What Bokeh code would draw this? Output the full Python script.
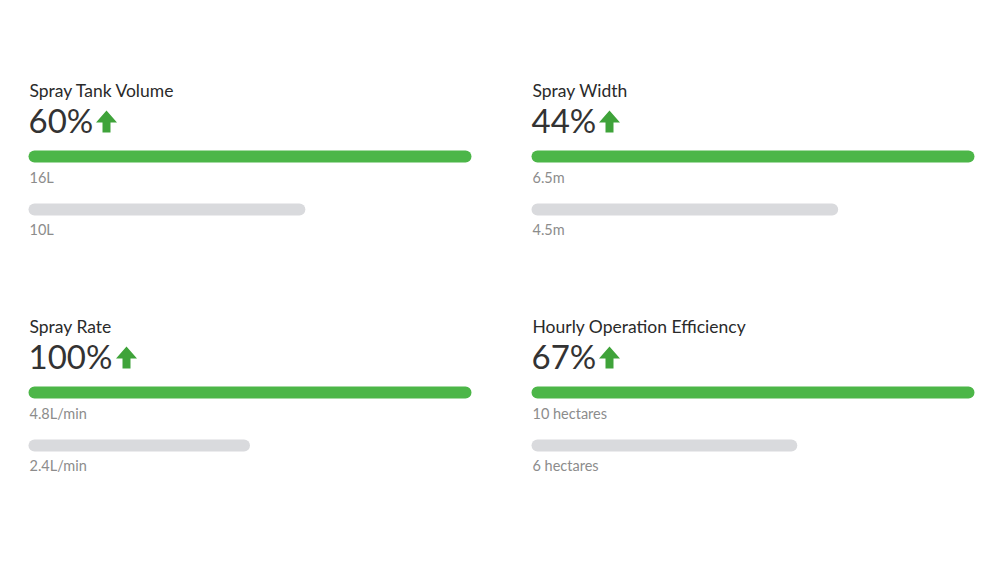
from bokeh.plotting import figure
from bokeh.models import Range1d
from bokeh.core.properties import value
from bokeh.embed import file_html
from bokeh.resources import INLINE

titles = ["Spray Tank Volume", "Spray Width", "Spray Rate", "Hourly Operation Efficiency"]
new_values = [16, 6.5, 4.8, 10]
old_values = [10, 4.5, 2.4, 6]
new_labels = ["16L", "6.5m", "4.8L/min", "10 hectares"]
old_labels = ["10L", "4.5m", "2.4L/min", "6 hectares"]
increase_pct = [60, 44, 100, 67]

GREEN = "#4cb648"
GREY = "#d9dadd"
FONT = value("Lato")
W, H = 984, 548
BAR_PX = 443.0
COL_LEFT = [28, 531, 28, 531]
ROW_TOP = [0, 0, 236, 236]

p = figure(width=W, height=H, output_backend="svg", toolbar_location=None,
           x_range=Range1d(0, W), y_range=Range1d(H, 0), min_border=0,
           min_border_left=0, min_border_right=0, min_border_top=0, min_border_bottom=0)
p.axis.visible = False
p.grid.visible = False
p.outline_line_color = None
p.background_fill_color = "white"
p.border_fill_color = "white"

for i in range(4):
    left = COL_LEFT[i]
    top = ROW_TOP[i]
    k = new_values[i] / BAR_PX
    rname = f"panel{i}"
    p.extra_x_ranges[rname] = Range1d(-left * k, (W - left) * k)

    # title
    p.text(x=[left + 1], y=[top + 90], text=[titles[i]], text_font=FONT,
           text_font_size="17.5px", text_color="#2a2a2a", text_baseline="middle")
    # big percentage
    pct = f"{increase_pct[i]}%"
    p.text(x=[left], y=[top + 119.5], text=[pct], text_font=FONT, text_font_size="33px",
           text_color="#333333", text_baseline="middle")
    # arrow
    cx = left + 78 + (len(pct) - 3) * 20
    ax = [cx, cx + 10.5, cx + 4, cx + 4, cx - 4, cx - 4, cx - 10.5]
    ay = [top + 110, top + 122, top + 122, top + 132, top + 132, top + 122, top + 122]
    p.patch(ax, ay, fill_color="#3fa33a", line_color=None)

    # bars
    p.hbar(y=[top + 156], height=12, left=[0], right=[new_values[i]], fill_color=GREEN,
           line_color=None, border_radius=6, x_range_name=rname)
    p.hbar(y=[top + 209], height=12, left=[0], right=[old_values[i]], fill_color=GREY,
           line_color=None, border_radius=6, x_range_name=rname)

    # labels
    p.text(x=[left + 1], y=[top + 176.5], text=[new_labels[i]], text_font=FONT,
           text_font_size="14.5px", text_color="#8c8c8c", text_baseline="middle")
    p.text(x=[left + 1], y=[top + 229], text=[old_labels[i]], text_font=FONT,
           text_font_size="14.5px", text_color="#8c8c8c", text_baseline="middle")

open("out.html", "w").write(file_html(p, INLINE))
